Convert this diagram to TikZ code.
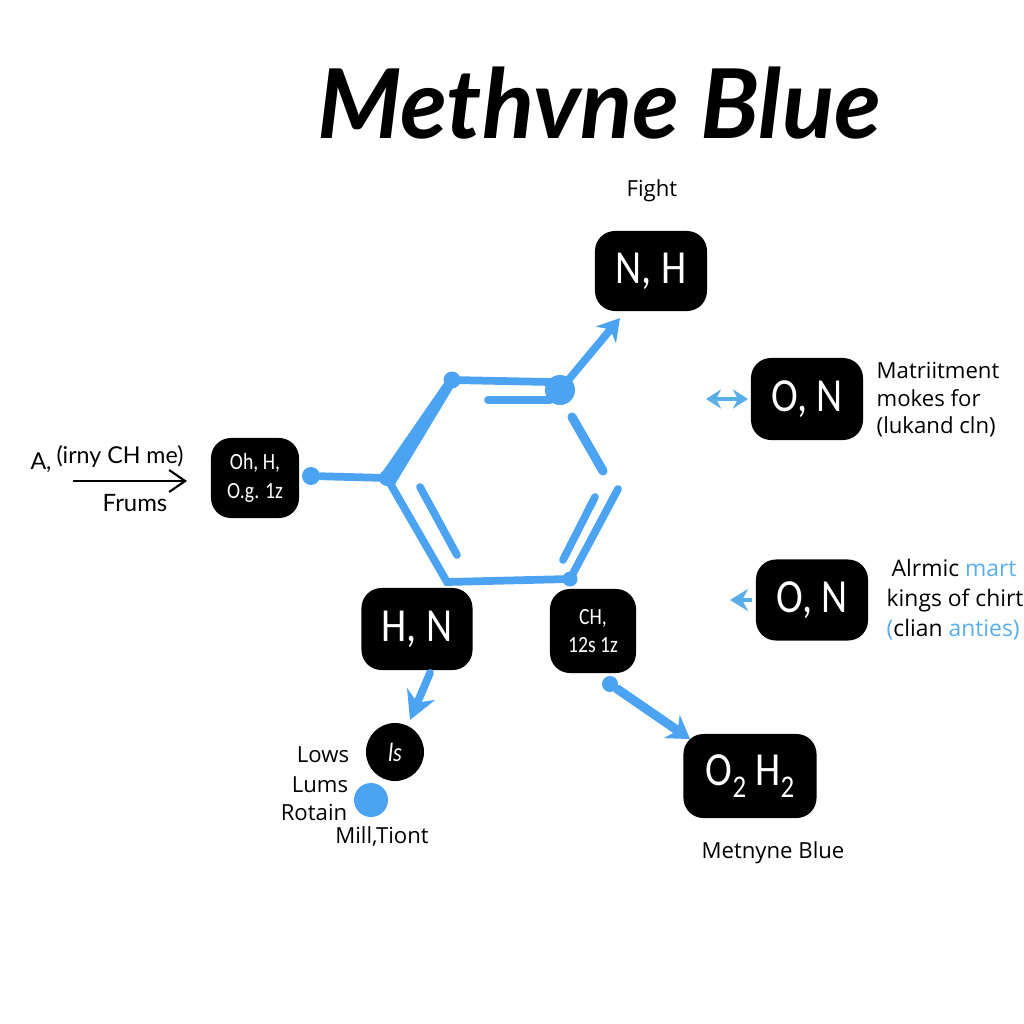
\documentclass[tikz,border=0pt]{standalone}
\usepackage{fontspec}
\usepackage{tikz}
\setmainfont{Open Sans}
\newfontfamily\handfont{Lato}
\newfontfamily\boxfont{Carlito}[FakeStretch=0.85]
\definecolor{bondblue}{HTML}{4BA3F2}
\definecolor{softblue}{HTML}{5AAEE8}
\usetikzlibrary{arrows.meta}
\newcommand{\lowtwo}{\raisebox{-0.55ex}{\fontsize{9}{9}\selectfont 2}}
\tikzset{
    atombox/.style={fill=black,text=white,rounded corners=2mm,inner sep=0pt,align=center,font=\boxfont\fontsize{13.5}{14}\selectfont},
    smallbox/.style={atombox,font=\boxfont\fontsize{6.6}{8.2}\selectfont},
    bond/.style={draw=bondblue,line width=2.2pt,line cap=round},
    blueblob/.style={circle,fill=bondblue,inner sep=0pt},
    tinyarrow/.style={softblue,line width=1.2pt},
    note/.style={font=\fontsize{6.3}{7.8}\selectfont,align=left,inner sep=0pt},
    scribble/.style={font=\handfont\fontsize{6.6}{7}\selectfont,inner sep=0pt},
}
\begin{document}
\begin{tikzpicture}[x=0.01cm,y=-0.01cm]
    \useasboundingbox (0,0) rectangle (1024,1024);
    \node[font=\handfont\bfseries\itshape\fontsize{27.4}{30}\selectfont,inner sep=0pt] (title) at (599,103) {Methvne Blue};
    \node[atombox,minimum width=1.12cm,minimum height=0.8cm] (nh) at (651,271) {N, H};
    \node[atombox,minimum width=1.12cm,minimum height=0.82cm] (onup) at (807,399) {O, N};
    \node[atombox,minimum width=1.12cm,minimum height=0.81cm] (onlow) at (812,600) {O, N};
    \node[smallbox,minimum width=0.88cm,minimum height=0.8cm] (oh) at (255,478) {Oh, H,\\O.g. 1z};
    \node[atombox,minimum width=1.11cm,minimum height=0.82cm] (hn) at (417,629) {H, N};
    \node[smallbox,minimum width=0.86cm,minimum height=0.84cm] (ch) at (593,631) {CH,\\12s 1z};
    \node[atombox,minimum width=1.33cm,minimum height=0.84cm] (ohtwo) at (750,776) {O\lowtwo{} H\lowtwo};
    \node[circle,fill=black,text=white,minimum size=0.58cm,inner sep=0pt,font=\boxfont\itshape\fontsize{7.5}{8}\selectfont] (is) at (395,752) {ls};
    \coordinate (lft) at (387,478);
    \coordinate (tl) at (452,380);
    \coordinate (br) at (570,579);
    \coordinate (bl) at (447,582);
    \coordinate (trtop) at (550,382);
    \coordinate (trin) at (550,400);
    \node[blueblob,minimum size=0.3cm] (tr) at (560,390) {};
    \node[blueblob,minimum size=0.17cm] at (tl) {};
    \node[blueblob,minimum size=0.15cm] at (br) {};
    \node[blueblob,minimum size=0.16cm] at (lft) {};
    \node[blueblob,minimum size=0.18cm] (blob) at (311,476) {};
    \node[blueblob,minimum size=0.34cm] (ball) at (371,800) {};
    \node[blueblob,minimum size=0.16cm] (chdot) at (610,684) {};
    \fill[bondblue] (381,474) -- (448,377) -- (456,383) -- (394,486) -- cycle;
    \draw[bond] (tl) -- (trtop);
    \draw[bond] (lft) -- (bl) -- (br) -- (618,489);
    \draw[bond] (488,400) -- (trin);
    \draw[bond,line width=2.6pt] (572,417) -- (603,471);
    \draw[bond] (595,497) -- (563,560);
    \draw[bond] (420,487) -- (457,555);
    \draw[bond] (blob) -- (lft);
    \draw[bond,-{Stealth[length=2.2mm,width=2.6mm]}] (tr.center) -- (620,318);
    \draw[bond,-{Stealth[length=2.8mm,width=3mm]}] (430,673) -- (410,720);
    \draw[bond,line width=2.6pt,-{Stealth[length=2.2mm,width=2.8mm]}] (chdot) -- (690,739);
    \draw[tinyarrow,{Stealth[length=1.5mm,width=1.9mm]}-{Stealth[length=1.5mm,width=1.9mm]}] (706,399) -- (748,399);
    \coordinate (smallend) at (752,600);
    \draw[tinyarrow,-{Stealth[length=1.8mm,width=2.2mm]}] (smallend) -- (730,600);
    \node[note] (fight) at (652,191) {Fight};
    \node[note,anchor=west] (matri) at (876,400) {Matriitment\\mokes for\\(lukand cln)};
    \node[note,anchor=west,font=\fontsize{6.5}{8.5}\selectfont] (alrm) at (886,600) {\hspace{0.05cm}Alrmic \textcolor{softblue}{mart}\\kings of chirt\\\textcolor{softblue}{(}clian \textcolor{softblue}{anties)}};
    \node[note] (lows) at (323,755) {Lows};
    \node[note] (lums) at (320,785) {Lums};
    \node[note] (rotain) at (314,812) {Rotain};
    \node[note] (mill) at (382,837) {Mill,Tiont};
    \node[note] (methy) at (773,853) {Metnyne Blue};
    \node[scribble] (aone) at (41,463) {A,};
    \node[scribble] (irny) at (120,456) {(irny CH me)};
    \node[scribble,font=\handfont\fontsize{6.8}{8}\selectfont] (frums) at (135,503) {Frums};
    \coordinate (frm) at (73,481);
    \coordinate (tox) at (187,481);
    \draw[black,line width=0.6pt,-{Straight Barb[length=1.6mm,width=2.2mm]}] (frm) -- (tox);
\end{tikzpicture}
\end{document}
